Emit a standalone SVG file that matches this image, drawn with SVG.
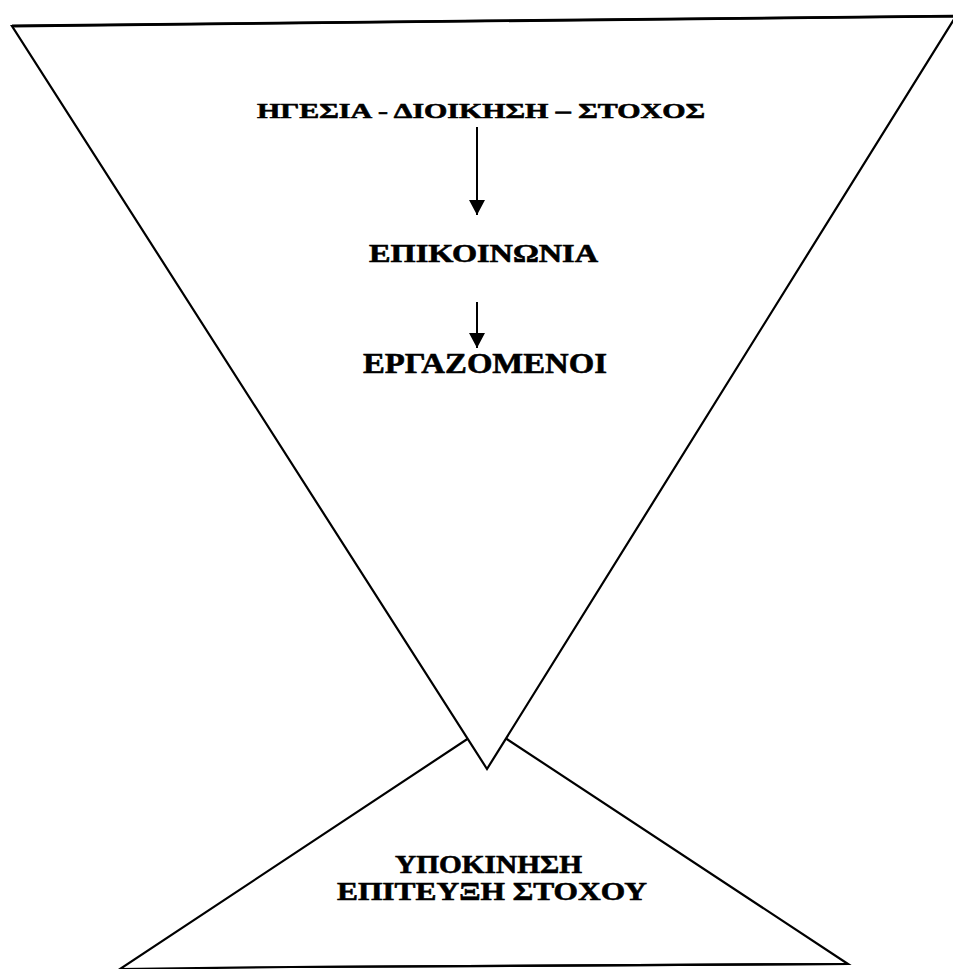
<svg xmlns="http://www.w3.org/2000/svg" width="953" height="969" viewBox="0 0 953 969">
  <style>
    .tri { fill: #ffffff; stroke: #000000; stroke-width: 2.2; stroke-linejoin: miter; }
    .lbl { font-family: "Liberation Serif", "Times New Roman", serif; font-weight: bold; fill: #000000; stroke: #000000; stroke-width: 0.6; text-anchor: start; }
    .conn { stroke: #000000; stroke-width: 2; fill: none; }
  </style>
  <defs>
    <marker id="head" viewBox="0 0 15 16" refX="15" refY="8" markerWidth="15" markerHeight="16" markerUnits="userSpaceOnUse" orient="auto">
      <path d="M0,0 L15,8 L0,16 z" fill="#000000"/>
    </marker>
  </defs>
  <rect x="0" y="0" width="953" height="969" fill="#ffffff"/>

  <g id="base-triangle">
    <polygon class="tri" points="487,726 120,969 292,967 848,964"/>
    <polyline class="tri" style="fill:none" points="292,967 848,964"/>
  </g>

  <g id="funnel-triangle">
    <polygon class="tri" points="12,26 956,16 487,769"/>
    <line x1="12" y1="26" x2="956" y2="16" stroke="#000000" stroke-width="2.8"/>
  </g>

  <g id="node-leadership">
    <text class="lbl" x="257" y="118" font-size="21" textLength="448" lengthAdjust="spacingAndGlyphs">ΗΓΕΣΙΑ - ΔΙΟΙΚΗΣΗ – ΣΤΟΧΟΣ</text>
  </g>
  <g id="node-communication">
    <text class="lbl" x="369" y="262" font-size="25" textLength="229" lengthAdjust="spacingAndGlyphs">ΕΠΙΚΟΙΝΩΝΙΑ</text>
  </g>
  <g id="node-employees">
    <text class="lbl" x="363" y="373" font-size="30" textLength="244" lengthAdjust="spacingAndGlyphs">ΕΡΓΑΖΟΜΕΝΟΙ</text>
  </g>
  <g id="node-motivation">
    <text class="lbl" x="395" y="873" font-size="25" textLength="187" lengthAdjust="spacingAndGlyphs">ΥΠΟΚΙΝΗΣΗ</text>
    <text class="lbl" x="337" y="900" font-size="26" textLength="310" lengthAdjust="spacingAndGlyphs">ΕΠΙΤΕΥΞΗ  ΣΤΟΧΟΥ</text>
  </g>

  <g id="connectors">
    <line class="conn" x1="477" y1="127" x2="477" y2="215" marker-end="url(#head)"/>
    <line class="conn" x1="477" y1="302" x2="477" y2="348" marker-end="url(#head)"/>
  </g>
</svg>
